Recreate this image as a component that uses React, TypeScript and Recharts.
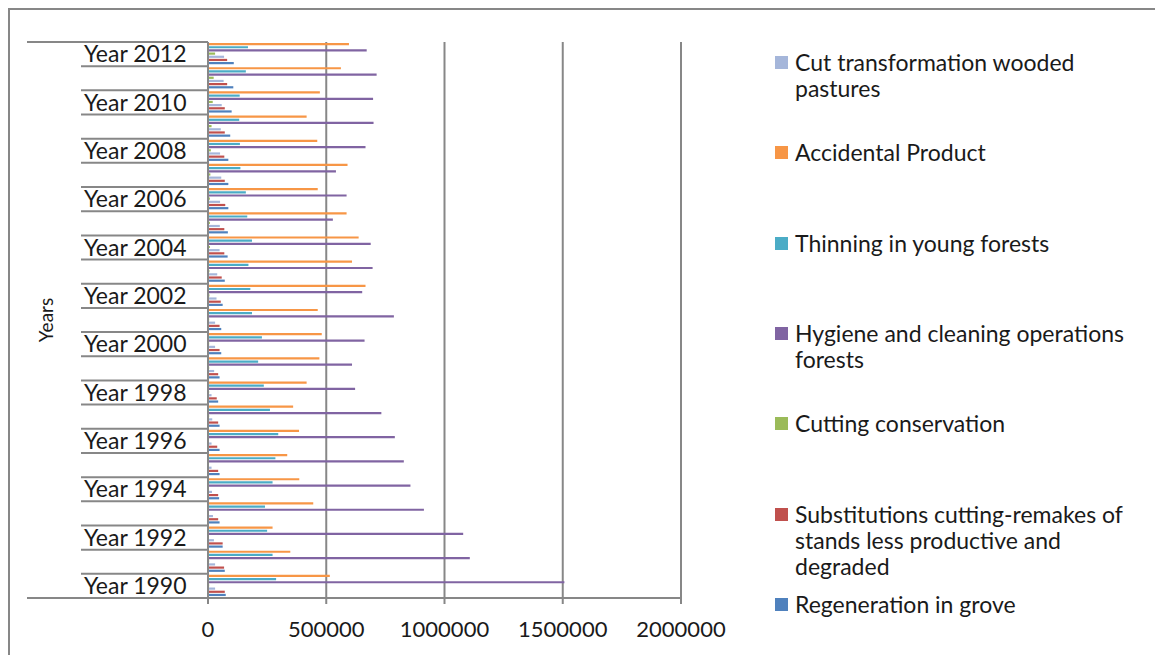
import { Bar, BarChart, CartesianGrid, XAxis, YAxis } from "recharts";

// ── data (1990 … 2012) ──────────────────────────────────────────────────────

const years = [
  "Year 1990", "Year 1991", "Year 1992", "Year 1993", "Year 1994", "Year 1995",
  "Year 1996", "Year 1997", "Year 1998", "Year 1999", "Year 2000", "Year 2001",
  "Year 2002", "Year 2003", "Year 2004", "Year 2005", "Year 2006", "Year 2007",
  "Year 2008", "Year 2009", "Year 2010", "Year 2011", "Year 2012",
];

const accidental = [
  515000, 348000, 273000, 445000, 386000, 335000, 385000, 360000, 417000, 471000, 481000, 464000,
  666000, 609000, 637000, 586000, 464000, 590000, 462000, 417000, 473000, 562000, 596000,
];
const thinning = [
  288000, 273000, 250000, 241000, 273000, 285000, 297000, 262000, 236000, 212000, 228000, 186000,
  179000, 171000, 186000, 166000, 160000, 137000, 135000, 132000, 134000, 160000, 169000,
];
const hygiene = [
  1507000, 1107000, 1079000, 913000, 856000, 828000, 790000, 733000, 622000, 609000, 662000, 786000,
  652000, 696000, 688000, 528000, 586000, 541000, 666000, 700000, 698000, 713000, 671000,
];
const conservation = [
  5000, 5000, 4000, 4000, 4000, 4000, 4000, 5000, 5000, 5000, 5000, 5000,
  6000, 6000, 8000, 8000, 8000, 10000, 12000, 15000, 20000, 24000, 30000,
];
const cutTransformation = [
  30000, 30000, 25000, 21000, 17000, 15000, 15000, 18000, 15000, 26000, 30000, 30000,
  36000, 39000, 49000, 50000, 51000, 56000, 51000, 54000, 58000, 66000, 68000,
];
const substitutions = [
  71000, 68000, 62000, 43000, 43000, 43000, 39000, 43000, 37000, 43000, 49000, 49000,
  54000, 58000, 69000, 69000, 73000, 71000, 69000, 71000, 71000, 81000, 81000,
];
const regeneration = [
  75000, 71000, 62000, 49000, 47000, 49000, 49000, 49000, 43000, 49000, 56000, 56000,
  62000, 71000, 83000, 84000, 86000, 86000, 86000, 94000, 100000, 107000, 109000,
];

const xTicks = [0, 500000, 1000000, 1500000, 2000000];

// bar order inside a band (top → bottom)
const barSeries = [
  { key: "accidental", name: "Accidental Product", color: "#F79646" },
  { key: "thinning", name: "Thinning in young forests", color: "#4BACC6" },
  { key: "hygiene", name: "Hygiene and cleaning operations forests", color: "#8064A2" },
  { key: "conservation", name: "Cutting conservation", color: "#9BBB59" },
  { key: "cutTransformation", name: "Cut transformation wooded pastures", color: "#A5B6DA" },
  { key: "substitutions", name: "Substitutions cutting-remakes of stands less productive and degraded", color: "#C0504D" },
  { key: "regeneration", name: "Regeneration in grove", color: "#4F81BD" },
];

// legend order (top → bottom)
const legendOrder = [
  "cutTransformation", "accidental", "thinning", "hygiene", "conservation", "substitutions", "regeneration",
];

const data = years.map((year, i) => ({
  year,
  accidental: accidental[i],
  thinning: thinning[i],
  hygiene: hygiene[i],
  conservation: conservation[i],
  cutTransformation: cutTransformation[i],
  substitutions: substitutions[i],
  regeneration: regeneration[i],
}));

// ── layout ──────────────────────────────────────────────────────────────────

const FONT = "Lato, 'Open Sans', sans-serif";
const GREY = "#878787";
const TEXT = "#1a1a1a";
const CHART_W = 740;
const CHART_H = 640;
const PLOT_TOP = 34;
const PLOT_BOTTOM = 590;
const PLOT_RIGHT = 673;
const AXIS_X = 200;
const BAND = (PLOT_BOTTOM - PLOT_TOP) / years.length;

// ── YearTick ────────────────────────────────────────────────────────────────

interface TickProps {
  y?: number;
  index?: number;
  payload?: { value: string };
}

function YearTick({ y = 0, index = 0, payload }: TickProps) {
  const label = payload?.value ?? "";
  const yr = parseInt(label.replace("Year ", ""), 10);
  const top = y - BAND / 2;
  const isTop = index === years.length - 1;
  const isBottom = index === 0;
  return (
    <g>
      <line x1={isTop ? 19 : 73} x2={AXIS_X} y1={top} y2={top} stroke={GREY} strokeWidth={2} />
      {isBottom && (
        <line x1={19} x2={AXIS_X} y1={y + BAND / 2} y2={y + BAND / 2} stroke={GREY} strokeWidth={2} />
      )}
      {yr % 2 === 0 && (
        <text x={76} y={y} dy="0.36em" fontSize={23} fill={TEXT} fontFamily={FONT}>
          {label}
        </text>
      )}
    </g>
  );
}

// ── App ─────────────────────────────────────────────────────────────────────

export default function App() {
  return (
    <div style={{ position: "relative", width: 1155, height: 647, overflow: "hidden", fontFamily: FONT }}>
      <div
        style={{
          position: "absolute",
          left: 0,
          top: 0,
          width: 1152,
          height: 700,
          border: `2px solid ${GREY}`,
          boxSizing: "border-box",
        }}
      />
      <div style={{ position: "absolute", left: 0, top: 0 }}>
        <BarChart
          width={CHART_W}
          height={CHART_H}
          data={data}
          layout="vertical"
          margin={{ top: PLOT_TOP, right: CHART_W - PLOT_RIGHT, left: 0, bottom: 10 }}
          barGap={0.97}
          barSize={2.2}
        >
          <CartesianGrid horizontal={false} stroke={GREY} strokeWidth={2} />
          <XAxis
            type="number"
            domain={[0, 2000000]}
            ticks={xTicks}
            interval={0}
            height={40}
            axisLine={{ stroke: GREY, strokeWidth: 2 }}
            tickLine={{ stroke: GREY, strokeWidth: 2 }}
            tickSize={6}
            tickMargin={17}
            tick={{ fontSize: 22, fill: TEXT, fontFamily: FONT }}
          />
          <YAxis
            type="category"
            dataKey="year"
            reversed
            width={AXIS_X}
            interval={0}
            tickLine={false}
            axisLine={{ stroke: GREY, strokeWidth: 2 }}
            tick={<YearTick />}
            label={{
              content: () => (
                <text
                  x={37}
                  y={(PLOT_TOP + PLOT_BOTTOM) / 2}
                  transform={`rotate(-90, 37, ${(PLOT_TOP + PLOT_BOTTOM) / 2})`}
                  textAnchor="middle"
                  dominantBaseline="central"
                  fontSize={19}
                  fill={TEXT}
                  fontFamily={FONT}
                >
                  Years
                </text>
              ),
            }}
          />
          {barSeries.map((s) => (
            <Bar key={s.key} dataKey={s.key} name={s.name} fill={s.color} isAnimationActive={false} />
          ))}
        </BarChart>
      </div>
      {legendOrder.map((key, i) => {
        const s = barSeries.find((b) => b.key === key)!;
        const cy = 54 + i * 90.3;
        return (
          <div key={key} style={{ position: "absolute", left: 767, top: cy - 13 }}>
            <div
              style={{ position: "absolute", left: 0, top: 7, width: 13, height: 13, background: s.color }}
            />
            <div
              style={{
                position: "absolute",
                left: 20,
                top: 0,
                width: 345,
                fontSize: 23,
                lineHeight: "26px",
                color: TEXT,
              }}
            >
              {s.name}
            </div>
          </div>
        );
      })}
    </div>
  );
}
